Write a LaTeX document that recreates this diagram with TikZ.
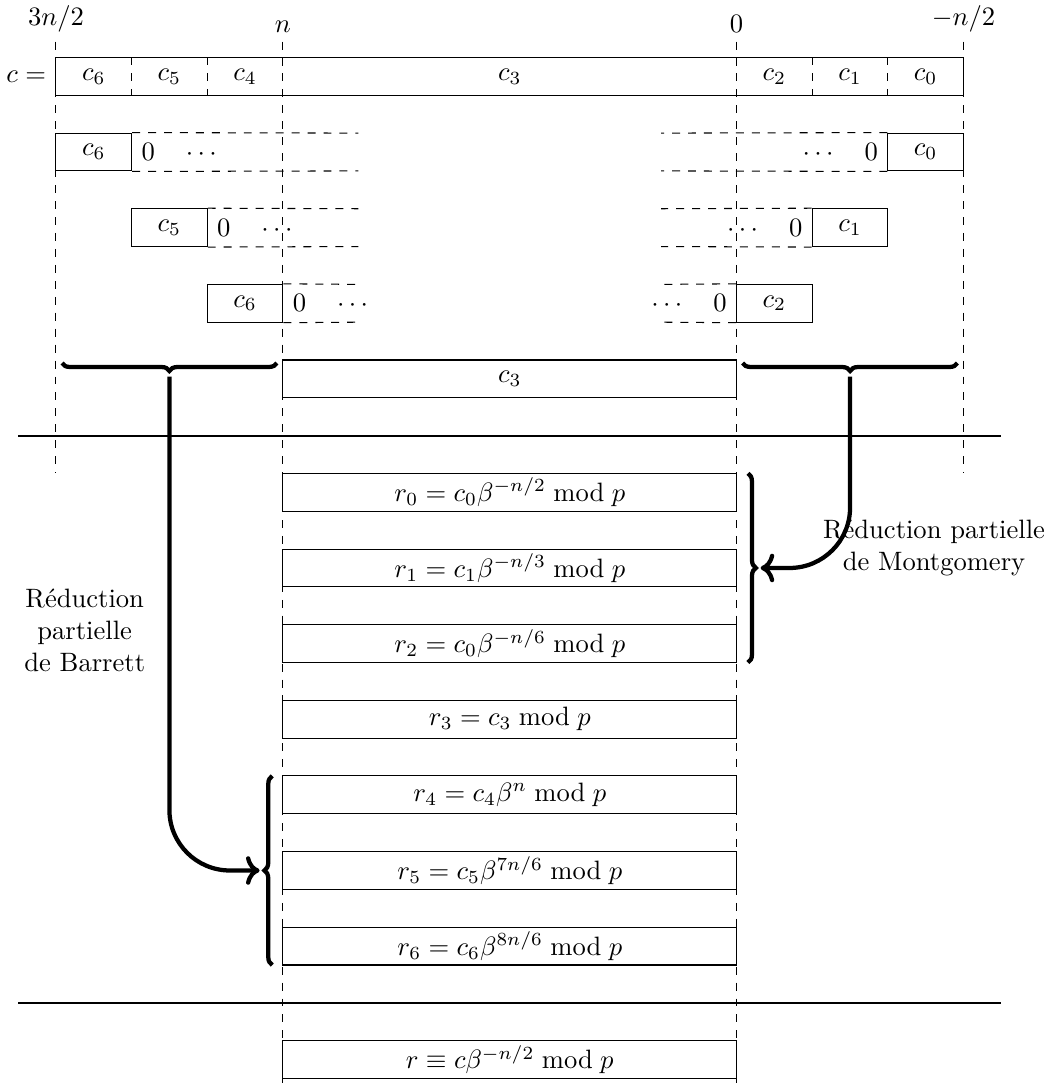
\documentclass[tikz,border=0pt]{standalone}
\usepackage{amsmath,amssymb}
\usetikzlibrary{arrows.meta,calc,positioning,decorations.pathreplacing}

\tikzset{
  cell/.style={draw,rectangle,inner sep=0pt,minimum height=5mm,minimum width=#1},
  cell/.default=1cm,
  guide/.style={dashed},
  sepline/.style={thick},
  grp/.style={decorate,decoration={brace,amplitude=3pt},ultra thick},
  flow/.style={ultra thick,-{To},rounded corners=0.8cm},
}

\begin{document}
\begin{tikzpicture}
    \useasboundingbox (-0.74,-13.56) rectangle (13.18,0.76);
    % Reperes des positions en haut
    \node[above] (p32) at (0,0.21) {$3n/2$};
    \node[above] (pn) at (3,0.21) {$n$};
    \node[above] (pz) at (9,0.21) {$0$};
    \node[above] (pm) at (12,0.21) {$-n/2$};
    \draw[guide] (p32.south) -- (0,-5.5);
    \draw[guide] (pn.south) -- (3,-13.6);
    \draw[guide] (pz.south) -- (9,-13.6);
    \draw[guide] (pm.south) -- (12,-5.5);
    % Le nombre c decoupe en blocs
    \node[cell=12cm] (c) at (6,-0.25) {};
    \node[left] (ceq) at (c.west) {$c=$};
    \draw[guide] (1,0) -- (1,-0.5) (2,0) -- (2,-0.5) (10,0) -- (10,-0.5) (11,0) -- (11,-0.5);
    \node (c6) at (0.5,-0.25) {$c_6$};
    \node (c5) at (1.5,-0.25) {$c_5$};
    \node (c4) at (2.5,-0.25) {$c_4$};
    \node (c3) at (6,-0.25) {$c_3$};
    \node (c2) at (9.5,-0.25) {$c_2$};
    \node (c1) at (10.5,-0.25) {$c_1$};
    \node (c0) at (11.5,-0.25) {$c_0$};
    % Blocs isoles, completes par des zeros
    \node[cell] (s6) at (0.5,-1.25) {$c_6$};
    \draw[guide] (s6.north east) -- (4,-1) (s6.south east) -- (4,-1.5);
    \node[right] (z6) at (s6.east) {$0\quad\cdots$};
    \node[cell] (s0) at (11.5,-1.25) {$c_0$};
    \draw[guide] (s0.north west) -- (8,-1) (s0.south west) -- (8,-1.5);
    \node[left] (z0) at (s0.west) {$\cdots\quad0$};
    \node[cell] (s5) at (1.5,-2.25) {$c_5$};
    \draw[guide] (s5.north east) -- (4,-2) (s5.south east) -- (4,-2.5);
    \node[right] (z5) at (s5.east) {$0\quad\cdots$};
    \node[cell] (s1) at (10.5,-2.25) {$c_1$};
    \draw[guide] (s1.north west) -- (8,-2) (s1.south west) -- (8,-2.5);
    \node[left] (z1) at (s1.west) {$\cdots\quad0$};
    \node[cell] (s4) at (2.5,-3.25) {$c_6$};
    \draw[guide] (s4.north east) -- (4,-3) (s4.south east) -- (4,-3.5);
    \node[right] (z4) at (s4.east) {$0\quad\cdots$};
    \node[cell] (s2) at (9.5,-3.25) {$c_2$};
    \draw[guide] (s2.north west) -- (8,-3) (s2.south west) -- (8,-3.5);
    \node[left] (z2) at (s2.west) {$\cdots\quad0$};
    % Partie centrale et accolades
    \node[cell=6cm] (m3) at (6,-4.25) {$c_3$};
    \draw[grp] (2.92,-4.04) -- (0.08,-4.04);
    \draw[grp] (11.92,-4.04) -- (9.08,-4.04);
    \coordinate (hb) at (1.5,-4.22);
    \coordinate (mb) at (10.5,-4.22);
    \draw[sepline] (-0.5,-5) -- (12.5,-5);
    % Les restes partiels
    \node[cell=6cm] (r0) at (6,-5.75) {$r_0 = c_0\beta^{-n/2} \bmod p$};
    \node[cell=6cm] (r1) at (6,-6.75) {$r_1 = c_1\beta^{-n/3} \bmod p$};
    \node[cell=6cm] (r2) at (6,-7.75) {$r_2 = c_0\beta^{-n/6} \bmod p$};
    \node[cell=6cm] (r3) at (6,-8.75) {$r_3 = c_3 \bmod p$};
    \node[cell=6cm] (r4) at (6,-9.75) {$r_4 = c_4\beta^{n} \bmod p$};
    \node[cell=6cm] (r5) at (6,-10.75) {$r_5 = c_5\beta^{7n/6} \bmod p$};
    \node[cell=6cm] (r6) at (6,-11.75) {$r_6 = c_6\beta^{8n/6} \bmod p$};
    \draw[grp] (9.15,-5.5) -- (9.15,-8);
    \draw[grp] (2.86,-12) -- (2.86,-9.5);
    \coordinate (mt) at ($(r1.east)+(0.31,0)$);
    \coordinate (bt) at ($(r5.west)+(-0.30,0)$);
    % Fleches des deux reductions
    \draw[flow] (mb) |- (mt);
    \draw[flow] (hb) |- (bt);
    \node[align=center] (mont) at (11.61,-6.49) {Réduction partielle\\de Montgomery};
    \node[align=center] (barr) at (0.38,-7.57) {Réduction\\partielle\\de Barrett};
    % Resultat final
    \draw[sepline] (-0.5,-12.5) -- (12.5,-12.5);
    \node[cell=6cm] (r) at (6,-13.25) {$r \equiv c\beta^{-n/2} \bmod p$};
\end{tikzpicture}
\end{document}
